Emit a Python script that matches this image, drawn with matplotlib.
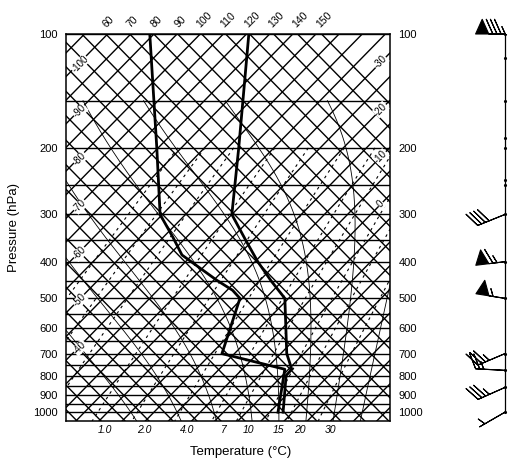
import numpy as np
import matplotlib.pyplot as plt

plt.rcParams['font.family'] = ['Liberation Sans', 'DejaVu Sans']

# sounding: temperature / dew point (deg C) on pressure levels (hPa)
temp_p = [100, 200, 300, 350, 400, 450, 500, 700, 770, 800, 1000]
temp_c = [-64.5, -42.6, -30.0, -21.7, -14.4, -7.4, -0.8, 11.3, 15.7, 15.8, 22.9]
dewp_p = [100, 200, 300, 346, 384, 416, 448, 476, 500, 700, 770, 800, 1000]
dewp_c = [-85.9, -60.3, -45.5, -37.7, -32.2, -25.5, -19.3, -13.8, -10.5, -2.7, 14.2, 15.3, 21.8]

# winds (direction from, speed in knots)
wind_p = [100, 300, 400, 500, 700, 775, 860, 1000]
wind_dir = [270, 248, 263, 279, 247, 273, 246, 240]
wind_kt = [85, 40, 65, 55, 35, 25, 35, 5]
wind_levels = [100, 116, 150, 188, 200, 243, 251, 300, 400, 500, 700, 775, 860, 1000]

# diagram background lines
isobars = [100, 150, 200, 250, 300, 350, 400, 450, 500, 550, 600,
           650, 700, 750, 800, 850, 900, 950, 1000]
p_ticks = [100, 200, 300, 400, 500, 600, 700, 800, 900, 1000]
isotherms = np.arange(-140, 55, 5)
thetas = np.arange(-200, 170, 10)
mix_ratios = [0.1, 0.2, 0.4, 1.0, 2.0, 4.0, 7, 10, 15, 20, 30]
mix_labels = ['1.0', '2.0', '4.0', '7', '10', '15', '20', '30']
moist_t0 = [-10, 0, 8, 16, 22, 28, 34, 40]
theta_labels = [60, 70, 80, 90, 100, 110, 120, 130, 140, 150]
left_t_labels = [-100, -90, -80, -70, -60, -50, -40]
right_t_labels = [-30, -20, -10, 0]

SKEW = 80.0
P_TOP, P_BOT = 100, 1055
X_LEFT, X_RIGHT = -24, 46


def skew_x(t, p):
    return np.asarray(t) + SKEW * np.log10(1000.0 / np.asarray(p, dtype=float))


def theta_x(th, p):
    # adiabat family drawn straight, anchored at its 100 hPa temperature
    t_top = (th + 273.15) * (P_TOP / 1000.0) ** 0.2857 - 273.15
    return skew_x(t_top, P_TOP) + SKEW * np.log10(np.asarray(p, dtype=float) / P_TOP)


def dew_from_mix(w, p):
    e = w * p / (622.0 + w)
    a = np.log(e / 6.112)
    return 243.5 * a / (17.67 - a)


def moist_rate(t, p):
    es = 6.112 * np.exp(17.67 * (t - 273.15) / (t - 29.65))
    rs = 0.622 * es / (p - es)
    return (287.04 * t + 2.501e6 * rs) / (p * (1005.7 + 2.501e6 ** 2 * rs * 0.622 / (287.04 * t * t)))


def moist_line(t0, p_end, step):
    # saturated adiabat from 1000 hPa, stepping with RK2
    ps = [1000.0]
    ts = [t0 + 273.15]
    p = 1000.0
    t = t0 + 273.15
    while True:
        k1 = moist_rate(t, p)
        k2 = moist_rate(t + k1 * step, p + step)
        t = t + 0.5 * (k1 + k2) * step
        p = p + step
        ps.append(p)
        ts.append(t)
        if (step < 0 and p <= p_end) or (step > 0 and p >= p_end):
            break
    return np.array(ps), np.array(ts) - 273.15


fig = plt.figure(figsize=(5.08, 4.68), dpi=100)
ax = fig.add_axes([66 / 508, 1 - 421 / 468, 324 / 508, 387 / 468])
ax.set_yscale('log')
ax.set_ylim(P_BOT, P_TOP)
ax.set_xlim(X_LEFT, X_RIGHT)

lc = 'k'
ends = [P_TOP, P_BOT]

for p in isobars:
    ax.axhline(p, color=lc, lw=1.0)

for t in isotherms:
    ax.plot(skew_x([t, t], ends), ends, color=lc, lw=1.0)

for th in thetas:
    ax.plot(theta_x(th, ends), ends, color=lc, lw=1.0)

for t0 in moist_t0:
    pu, tu = moist_line(t0, 150, -2.0)
    pd, td = moist_line(t0, P_BOT, 2.0)
    ps = np.concatenate([pd[::-1], pu[1:]])
    ts = np.concatenate([td[::-1], tu[1:]])
    ax.plot(skew_x(ts, ps), ps, color=lc, lw=0.6)

pm = np.geomspace(200, P_BOT, 80)
for w in mix_ratios:
    ax.plot(skew_x(dew_from_mix(w, pm), pm), pm, color=lc, lw=0.8,
            dashes=(2.5, 3.5))

# sounding curves
ax.plot(skew_x(temp_c, temp_p), temp_p, color='k', lw=2.0)
ax.plot(skew_x(dewp_c, dewp_p), dewp_p, color='k', lw=2.0)

# labels along the diagram edges
for w, lab in zip(mix_ratios[3:], mix_labels):
    ax.annotate(lab, (skew_x(dew_from_mix(w, P_BOT), P_BOT), P_BOT),
                xytext=(9, -3), textcoords='offset points', ha='center',
                va='top', fontsize=7.5, style='italic', annotation_clip=False)

for th in theta_labels:
    ax.annotate(str(th), (theta_x(th, P_TOP), P_TOP), xytext=(19, 3),
                textcoords='offset points', ha='center', va='bottom',
                rotation=45, fontsize=7.5, annotation_clip=False)

box = dict(facecolor='white', edgecolor='none', pad=0.2)
for t in left_t_labels:
    p_edge = 1000.0 * 10 ** (-(X_LEFT - t) / SKEW)
    ax.annotate(str(t), (X_LEFT, p_edge), xytext=(10, -8),
                textcoords='offset points', rotation=45, fontsize=7,
                ha='center', va='center', bbox=box)

for t in right_t_labels:
    xr = X_RIGHT - 2.0
    p_at = 1000.0 * 10 ** (-(xr - t) / SKEW)
    ax.text(xr, p_at, str(t), rotation=45, fontsize=7, ha='center',
            va='center', bbox=box)

ax.set_yticks(p_ticks)
ax.set_yticklabels([str(p) for p in p_ticks])
ax.yaxis.set_minor_locator(plt.NullLocator())
ax.set_xticks([])
ax.tick_params(axis='y', length=0, pad=6, labelsize=8, labelright=True)
for s in ax.spines.values():
    s.set_linewidth(1.1)

fig.text(14 / 508, 1 - 228 / 468, 'Pressure (hPa)', rotation=90,
         ha='center', va='center', fontsize=9.5)
fig.text(241 / 508, 1 - 452 / 468, 'Temperature (°C)', ha='center',
         va='center', fontsize=9.5)

# wind barbs column
bx = fig.add_axes([440 / 508, 1 - 421 / 468, 68 / 508, 387 / 468])
bx.set_yscale('log')
bx.set_ylim(P_BOT, P_TOP)
bx.set_xlim(0, 1)
bx.axis('off')
x0 = 0.955
bx.plot([x0, x0], [P_TOP, 1000], color='k', lw=0.9)
bx.plot([x0] * len(wind_levels), wind_levels, 'k.', ms=2.5)
d = np.radians(wind_dir)
u = -np.array(wind_kt) * np.sin(d)
v = -np.array(wind_kt) * np.cos(d)
bx.barbs([x0] * len(wind_p), wind_p, u, v, length=6.5, lw=0.8, color='k',
         sizes=dict(height=0.5, spacing=0.14, width=0.45), clip_on=False)

fig.savefig('out.png', dpi=100)
